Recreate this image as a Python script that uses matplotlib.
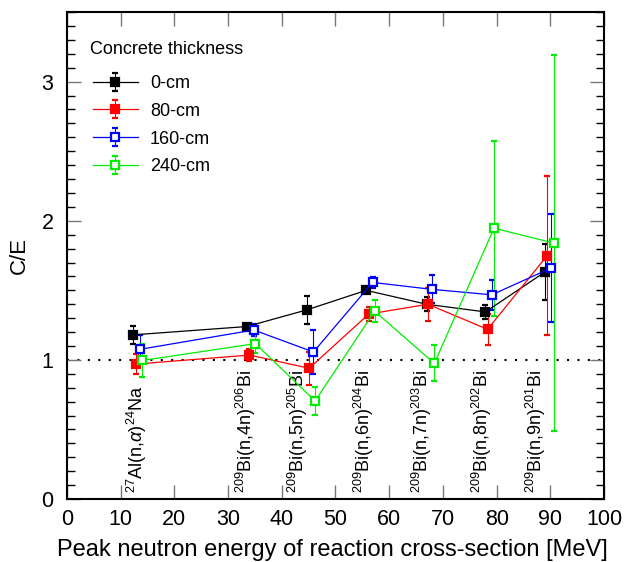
import matplotlib
matplotlib.use("Agg")
import matplotlib.pyplot as plt
from matplotlib.ticker import MultipleLocator

plt.rcParams['font.family'] = ['Liberation Sans', 'DejaVu Sans']
plt.rcParams['mathtext.fontset'] = 'custom'
plt.rcParams['mathtext.rm'] = 'Liberation Sans'
plt.rcParams['mathtext.it'] = 'Liberation Sans:italic'

# C/E values
x_0 = [12.3, 33.5, 44.7, 55.7, 67.0, 77.9, 88.9]
y_0 = [1.18, 1.24, 1.36, 1.50, 1.40, 1.345, 1.63]
e_0 = [0.065, 0.02, 0.10, 0.02, 0.05, 0.05, 0.20]

x_80 = [12.85, 34.0, 45.1, 56.2, 67.2, 78.3, 89.4]
y_80 = [0.97, 1.035, 0.94, 1.33, 1.40, 1.22, 1.75]
e_80 = [0.07, 0.04, 0.12, 0.05, 0.12, 0.11, 0.57]

x_160 = [13.6, 34.8, 45.9, 56.9, 68.0, 79.1, 90.1]
y_160 = [1.076, 1.215, 1.057, 1.557, 1.507, 1.468, 1.66]
e_160 = [0.10, 0.04, 0.16, 0.04, 0.10, 0.11, 0.39]

x_240 = [14.0, 35.1, 46.2, 57.3, 68.4, 79.5, 90.6]
y_240 = [0.996, 1.117, 0.705, 1.35, 0.975, 1.947, 1.84]
e_240 = [0.12, 0.07, 0.10, 0.08, 0.13, 0.63, 1.35]

reactions = [r'$^{27}$Al(n,$\alpha$)$^{24}$Na',
             r'$^{209}$Bi(n,4n)$^{206}$Bi',
             r'$^{209}$Bi(n,5n)$^{205}$Bi',
             r'$^{209}$Bi(n,6n)$^{204}$Bi',
             r'$^{209}$Bi(n,7n)$^{203}$Bi',
             r'$^{209}$Bi(n,8n)$^{202}$Bi',
             r'$^{209}$Bi(n,9n)$^{201}$Bi']
reaction_x = [13.0, 33.3, 43.0, 55.3, 66.1, 77.3, 87.3]

fig = plt.figure(figsize=(6.3, 5.62), dpi=100)
ax = fig.add_axes([0.106, 0.112, 0.853, 0.8665])

ax.axhline(1, color='k', lw=1.5, ls=(0, (1, 4)), zorder=1)

series = [
    (x_0, y_0, e_0, 'black', 'black', '0-cm'),
    (x_80, y_80, e_80, 'red', 'red', '80-cm'),
    (x_160, y_160, e_160, 'blue', 'white', '160-cm'),
    (x_240, y_240, e_240, '#00ee00', 'white', '240-cm'),
]
for xs, ys, es, c, fc, lab in series:
    ax.errorbar(xs, ys, yerr=es, color=c, lw=0.9, elinewidth=0.8, capsize=2,
                marker='s', ms=5.5, mfc=fc, mec=c, mew=1.6, label=lab, zorder=3)

# reaction labels, rotated, sitting on the x axis
for xr, txt in zip(reaction_x, reactions):
    ax.text(xr, 0.04, txt, rotation=90, ha='center', va='bottom', fontsize=13)

ax.set_xlim(0, 100)
ax.set_ylim(0, 3.5)
ax.xaxis.set_major_locator(MultipleLocator(10))
ax.yaxis.set_major_locator(MultipleLocator(1))
ax.yaxis.set_minor_locator(MultipleLocator(0.1))
ax.tick_params(which='both', direction='in', top=True, right=True, labelsize=15.5)
ax.tick_params(axis='x', pad=7)
ax.tick_params(axis='y', pad=9.5)
ax.tick_params(which='major', length=10, width=1, color='#777777')
ax.tick_params(which='minor', length=6, width=1)
for s in ax.spines.values():
    s.set_linewidth(1.5)

ax.set_xlabel('Peak neutron energy of reaction cross-section [MeV]', fontsize=17)
ax.xaxis.set_label_coords(0.495, -0.082)
ax.set_ylabel('C/E', fontsize=16)
ax.yaxis.set_label_coords(-0.069, 0.5)

ax.text(0.043, 0.924, 'Concrete thickness', transform=ax.transAxes,
        ha='left', va='center', fontsize=13)
ax.legend(loc='upper left', bbox_to_anchor=(0.048, 0.871), frameon=False,
          fontsize=13, borderpad=0, borderaxespad=0, handlelength=2.5,
          handletextpad=0.67, labelspacing=0.6)

fig.savefig('out.png', dpi=100)
